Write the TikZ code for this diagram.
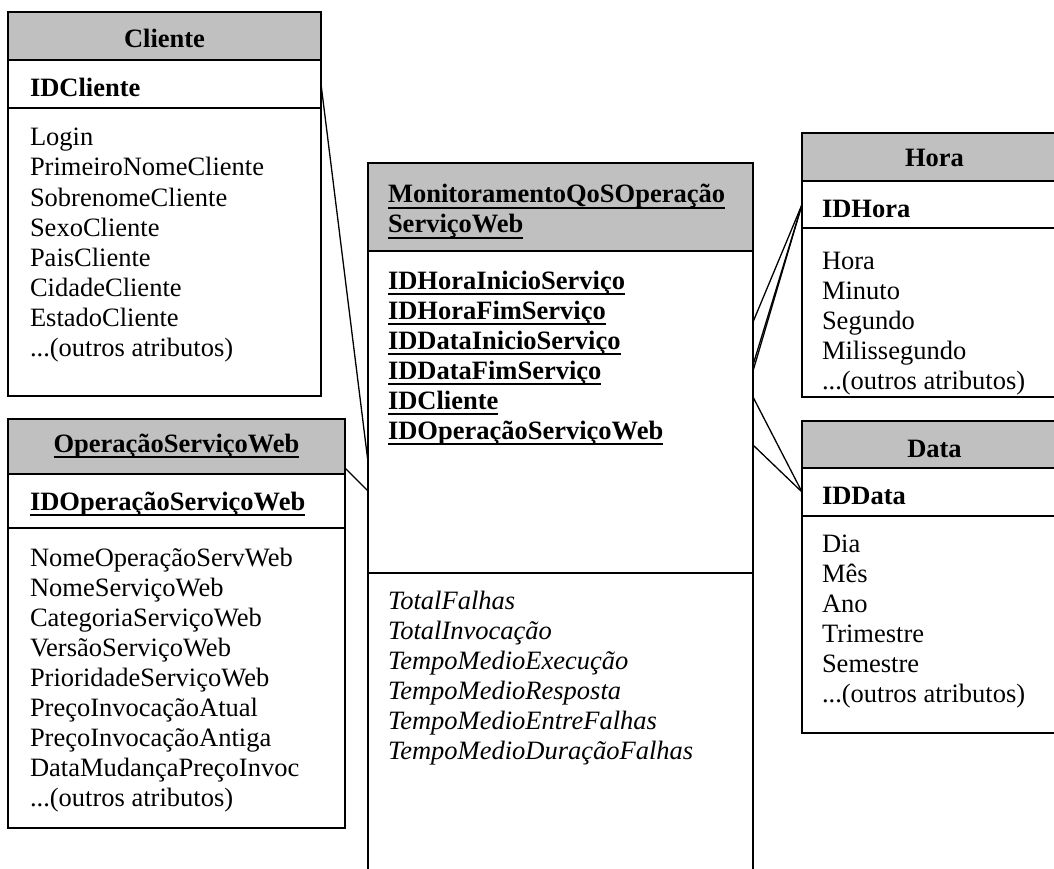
\documentclass[tikz,border=0pt]{standalone}
\usepackage{fontspec}
\setmainfont{Liberation Serif}
\usetikzlibrary{calc}
\definecolor{hdrgray}{RGB}{192,192,192}

% bold underline at a fixed depth below the baseline
\newcommand\ulx[1]{\setbox0=\hbox{#1}\rlap{\vrule height -4pt depth 6pt width \wd0}\box0}
% last line of every attribute list
\newcommand\outrosattr{...(outros atributos)}

\tikzset{
  sect/.style={draw=black, line width=2pt, rectangle, anchor=north west,
               inner sep=0pt, outer sep=0pt},
  hdr/.style={sect, fill=hdrgray},
  bodybox/.style={sect, fill=white},
  txt/.style={anchor=base west, inner sep=0pt, outer sep=0pt,
              font=\fontsize{26.5}{30}\selectfont},
  ttl/.style={anchor=base, inner sep=0pt, outer sep=0pt,
              font=\fontsize{26.5}{30}\selectfont\bfseries},
  idtxt/.style={txt, font=\fontsize{26.5}{30}\selectfont\bfseries},
  facttxt/.style={txt, font=\fontsize{26.5}{30}\selectfont\itshape},
  link/.style={draw=black, line width=1.3pt},
}

\begin{document}
\begin{tikzpicture}[x=1pt, y=-1pt]
\useasboundingbox (0,0) rectangle (1054,869);
\clip (0,0) rectangle (1054,869);

% ---------- Cliente ----------
\node[hdr, minimum width=313pt, minimum height=48pt] (cli-h) at (8,12) {};
\node[bodybox, minimum width=313pt, minimum height=48pt] (cli-id) at (8,60) {};
\node[bodybox, minimum width=313pt, minimum height=288pt] (cli-b) at (8,108) {};
\node[ttl] (cli-t) at (164.5,48) {Cliente};
\node[idtxt] (cli-k) at (30,97) {IDCliente};
\foreach \a [count=\i] in {Login, PrimeiroNomeCliente, SobrenomeCliente,
    SexoCliente, PaisCliente, CidadeCliente, EstadoCliente, \outrosattr}
  \node[txt] (cli-a\i) at (30,{116+30*\i}) {\a};

% ---------- OperacaoServicoWeb ----------
\node[hdr, minimum width=337pt, minimum height=55pt] (op-h) at (8,419) {};
\node[bodybox, minimum width=337pt, minimum height=54pt] (op-id) at (8,474) {};
\node[bodybox, minimum width=337pt, minimum height=300pt] (op-b) at (8,528) {};
\node[ttl] (op-t) at (176.5,452) {\ulx{OperaçãoServiçoWeb}};
\node[idtxt] (op-k) at (30,510) {\ulx{IDOperaçãoServiçoWeb}};
\foreach \a [count=\i] in {NomeOperaçãoServWeb, NomeServiçoWeb, CategoriaServiçoWeb,
    VersãoServiçoWeb, PrioridadeServiçoWeb, PreçoInvocaçãoAtual,
    PreçoInvocaçãoAntiga, DataMudançaPreçoInvoc, \outrosattr}
  \node[txt] (op-a\i) at (30,{536+30*\i}) {\a};

% ---------- Fact table ----------
\node[hdr, minimum width=385pt, minimum height=88pt] (mon-h) at (368,163) {};
\node[bodybox, minimum width=385pt, minimum height=322pt] (mon-id) at (368,251) {};
\node[bodybox, minimum width=385pt, minimum height=340pt] (mon-b) at (368,573) {};
\node[idtxt] (mon-t1) at (388,203) {\ulx{MonitoramentoQoSOperação}};
\node[idtxt] (mon-t2) at (388,233) {\ulx{ServiçoWeb}};
\foreach \a [count=\i] in {IDHoraInicioServiço, IDHoraFimServiço, IDDataInicioServiço,
    IDDataFimServiço, IDCliente, IDOperaçãoServiçoWeb}
  \node[idtxt] (mon-k\i) at (388,{259+30*\i}) {\ulx{\a}};
\foreach \a [count=\i] in {TotalFalhas, TotalInvocação, TempoMedioExecução,
    TempoMedioResposta, TempoMedioEntreFalhas, TempoMedioDuraçãoFalhas}
  \node[facttxt] (mon-f\i) at (388,{579+30*\i}) {\a};

% ---------- Hora ----------
\node[bodybox, minimum width=265pt, minimum height=169pt] (hora-b) at (802,228) {};
\foreach \a [count=\i] in {Hora, Minuto, Segundo, Milissegundo, \outrosattr}
  \node[txt] (hora-a\i) at (822,{239+30*\i}) {\a};
% the bottom edge is stroked again so that it runs over the last line
\draw[line width=2pt] (hora-b.south west) -- (hora-b.south east);
\node[hdr, minimum width=265pt, minimum height=48pt] (hora-h) at (802,133) {};
\node[bodybox, minimum width=265pt, minimum height=47pt] (hora-id) at (802,181) {};
\node[ttl] (hora-t) at (934.5,167) {Hora};
\node[idtxt] (hora-k) at (822,217) {IDHora};

% ---------- Data ----------
\node[hdr, minimum width=265pt, minimum height=47pt] (data-h) at (802,421) {};
\node[bodybox, minimum width=265pt, minimum height=48pt] (data-id) at (802,468) {};
\node[bodybox, minimum width=265pt, minimum height=217pt] (data-b) at (802,516) {};
\node[ttl] (data-t) at (934.5,457) {Data};
\node[idtxt] (data-k) at (822,504) {IDData};
\foreach \a [count=\i] in {Dia, Mês, Ano, Trimestre, Semestre, \outrosattr}
  \node[txt] (data-a\i) at (822,{522+30*\i}) {\a};

% ---------- attachment points on the fact table ----------
\coordinate (mon-l1) at (368,462);
\coordinate (mon-l2) at (368,491);
\coordinate (mon-r1) at (753,322);
\coordinate (mon-r2) at (753,365);
\coordinate (mon-r3) at (753,371);
\coordinate (mon-r4) at (753,397);
\coordinate (mon-r5) at (753,445);
\coordinate (op-pt) at ($(op-h.south east)+(0,-6)$);

% ---------- connectors ----------
\draw[link] (cli-id.east) -- (mon-l1);
\draw[link] (op-pt) -- (mon-l2);
\draw[link] (hora-id.west) -- (mon-r1);
\draw[link] (hora-id.west) -- (mon-r2);
\draw[link] (hora-id.west) -- (mon-r3);
\draw[link] (data-id.west) -- (mon-r4);
\draw[link] (data-id.west) -- (mon-r5);
\end{tikzpicture}
\end{document}
